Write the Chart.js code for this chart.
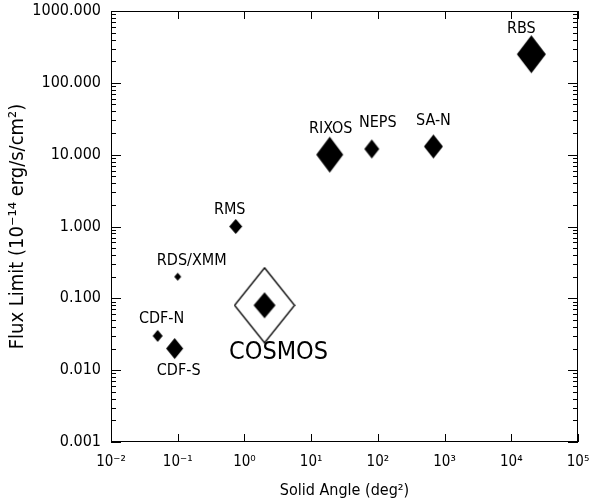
<!DOCTYPE html>
<html>
<head>
<meta charset="utf-8">
<script src="https://cdn.jsdelivr.net/npm/chart.js@4/dist/chart.umd.min.js"></script>
<style>
  html, body { margin: 0; padding: 0; background: #fff; }
  #wrap { width: 591px; height: 500px; }
</style>
</head>
<body>
<div id="wrap"><canvas id="c" width="591" height="500"></canvas></div>
<script>
// ---- data ----
const surveys = ['RBS', 'RIXOS', 'NEPS', 'SA-N', 'RMS', 'RDS/XMM', 'COSMOS', 'CDF-N', 'CDF-S'];
const solidAngle = [20000, 19, 81, 680, 0.74, 0.1, 2, 0.05, 0.09];   // deg^2
const fluxLimit = [250, 10, 12, 13, 1.0, 0.2, 0.08, 0.03, 0.02];     // 1e-14 erg/s/cm^2
const xTickValues = [0.01, 0.1, 1, 10, 100, 1000, 10000, 100000];
const xTickLabels = ['10⁻²', '10⁻¹', '10⁰', '10¹', '10²', '10³', '10⁴', '10⁵'];
const yTickValues = [0.001, 0.01, 0.1, 1, 10, 100, 1000];
const yTickLabels = ['0.001', '0.010', '0.100', '1.000', '10.000', '100.000', '1000.000'];
const highlight = 'COSMOS';

// ---- styles ----
const markerW = [29, 27, 15, 19, 13, 7, 22, 10, 17];
const markerH = [38, 36, 19, 24, 15, 8, 26, 12, 21];
const labelDx = [-10, 1, 6, 0, -6, 14, 14, 4, 4];
const labelDy = [-25, -26, -26, -26, -17, -16, 47, -17, 22];
const FONT = "'DejaVu Sans Condensed', 'Liberation Sans Narrow', 'Liberation Sans', sans-serif";

function diamond(w, h, filled) {
  const c = document.createElement('canvas');
  c.width = w + 2; c.height = h + 2;
  const g = c.getContext('2d');
  g.beginPath();
  g.moveTo(c.width / 2, 1);
  g.lineTo(c.width - 1, c.height / 2);
  g.lineTo(c.width / 2, c.height - 1);
  g.lineTo(1, c.height / 2);
  g.closePath();
  if (filled) { g.fillStyle = '#000'; g.fill(); }
  else { g.strokeStyle = '#000'; g.lineWidth = 1.3; g.stroke(); }
  return c;
}

const points = solidAngle.map((x, i) => ({ x: x, y: fluxLimit[i] }));
const filledStyles = markerW.map((w, i) => diamond(w, markerH[i], true));
const hi = surveys.indexOf(highlight);

function noPad(s) { s.paddingLeft = 0; s.paddingRight = 0; s.paddingTop = 0; s.paddingBottom = 0; }

const framePlugin = {
  id: 'frameTicks',
  afterDraw(chart) {
    const { ctx, chartArea: a, scales: { x, y } } = chart;
    ctx.save();
    ctx.strokeStyle = '#000';
    ctx.lineWidth = 1;
    ctx.strokeRect(a.left + 0.5, a.top + 0.5, a.right - a.left - 1, a.bottom - a.top - 1);
    ctx.beginPath();
    xTickValues.forEach(v => {
      const px = Math.round(x.getPixelForValue(v)) + 0.5;
      ctx.moveTo(px, a.bottom); ctx.lineTo(px, a.bottom - 8);
      ctx.moveTo(px, a.top); ctx.lineTo(px, a.top + 8);
    });
    yTickValues.forEach((v, k) => {
      for (let m = 1; m <= 9; m++) {
        if (m > 1 && k === yTickValues.length - 1) break;
        const py = Math.round(y.getPixelForValue(v * m)) + 0.5;
        const len = m === 1 ? 10 : 5;
        ctx.moveTo(a.left, py); ctx.lineTo(a.left + len, py);
        ctx.moveTo(a.right, py); ctx.lineTo(a.right - len, py);
      }
    });
    ctx.stroke();
    ctx.restore();
  }
};

const labelPlugin = {
  id: 'pointLabels',
  afterDatasetsDraw(chart) {
    const { ctx } = chart;
    const meta = chart.getDatasetMeta(1);
    ctx.save();
    ctx.fillStyle = '#000';
    ctx.textAlign = 'center';
    ctx.textBaseline = 'middle';
    meta.data.forEach((el, i) => {
      const big = surveys[i] === highlight;
      ctx.font = (big ? '25px ' : '16px ') + FONT;
      ctx.fillText(surveys[i], el.x + labelDx[i], el.y + labelDy[i]);
    });
    ctx.restore();
  }
};

new Chart(document.getElementById('c'), {
  type: 'scatter',
  data: {
    datasets: [
      {
        label: highlight + ' outline',
        data: [points[hi]],
        pointStyle: diamond(60, 75, false),
        pointRadius: 30
      },
      {
        label: 'Surveys',
        data: points,
        pointStyle: filledStyles,
        pointRadius: 10
      }
    ]
  },
  options: {
    responsive: false,
    animation: false,
    layout: { autoPadding: false, padding: { left: 0, right: 13, top: 11, bottom: 0 } },
    plugins: { legend: { display: false }, tooltip: { enabled: false } },
    scales: {
      x: {
        type: 'logarithmic',
        min: 0.01, max: 100000,
        afterFit(s) { s.height = 58; noPad(s); },
        afterBuildTicks(s) { s.ticks = xTickValues.map(v => ({ value: v })); },
        ticks: {
          autoSkip: false, maxRotation: 0, padding: 11,
          color: '#000',
          font: { family: FONT, size: 15 },
          callback: (v) => xTickLabels[xTickValues.indexOf(v)]
        },
        grid: { display: false, drawTicks: false },
        border: { display: false },
        title: {
          display: true, text: 'Solid Angle (deg²)', color: '#000',
          font: { family: FONT, size: 16, lineHeight: 1.2 },
          padding: { top: 0, bottom: 0 }
        }
      },
      y: {
        type: 'logarithmic',
        min: 0.001, max: 1000,
        afterFit(s) { s.width = 111; noPad(s); },
        afterBuildTicks(s) { s.ticks = yTickValues.map(v => ({ value: v })); },
        ticks: {
          autoSkip: false, padding: 10,
          color: '#000',
          font: { family: FONT, size: 16 },
          callback: (v) => yTickLabels[yTickValues.indexOf(v)]
        },
        grid: { display: false, drawTicks: false },
        border: { display: false },
        title: {
          display: true, text: 'Flux Limit (10⁻¹⁴ erg/s/cm²)', color: '#000',
          font: { family: FONT, size: 20, lineHeight: 1.2 },
          padding: { top: 6, bottom: 0 }
        }
      }
    }
  },
  plugins: [framePlugin, labelPlugin]
});
</script>
</body>
</html>
